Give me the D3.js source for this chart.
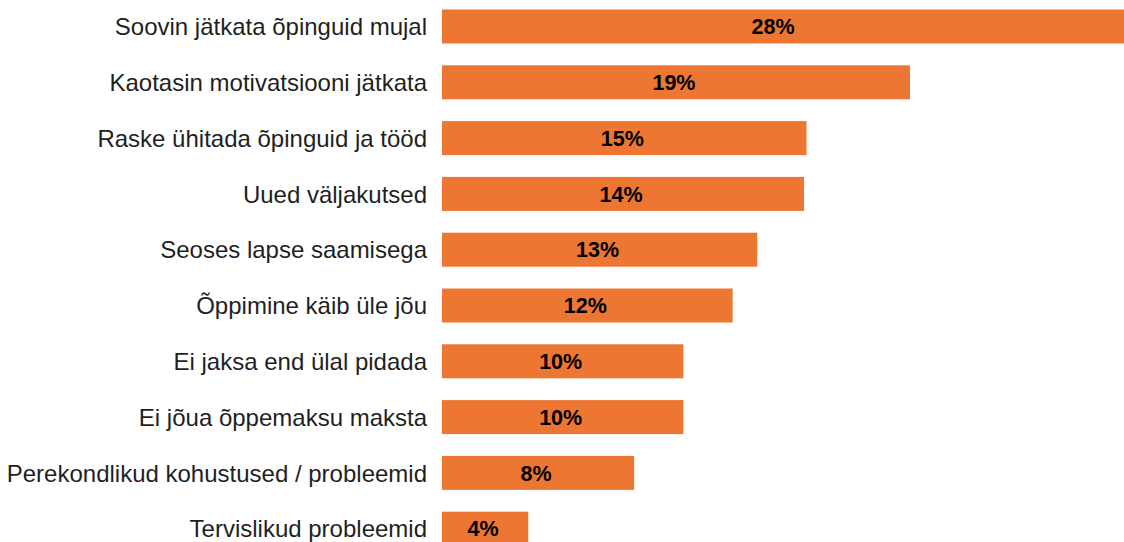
<!DOCTYPE html>
<html>
<head>
<meta charset="utf-8">
<script src="https://cdn.jsdelivr.net/npm/d3@7"></script>
<style>
html, body { margin: 0; padding: 0; background: #fff; overflow: hidden; }
svg { display: block; }
</style>
</head>
<body>
<svg id="chart" width="1124" height="542"></svg>
<script>
const categories = [
  "Soovin jätkata õpinguid mujal",
  "Kaotasin motivatsiooni jätkata",
  "Raske ühitada õpinguid ja tööd",
  "Uued väljakutsed",
  "Seoses lapse saamisega",
  "Õppimine käib üle jõu",
  "Ei jaksa end ülal pidada",
  "Ei jõua õppemaksu maksta",
  "Perekondlikud kohustused / probleemid",
  "Tervislikud probleemid"
];
const values = [28.0, 19.0, 14.8, 14.7, 12.8, 11.8, 9.8, 9.8, 7.8, 3.5];
const valueLabels = ["28%", "19%", "15%", "14%", "13%", "12%", "10%", "10%", "8%", "4%"];

const W = 1124, H = 542;
const x0 = 442;
const pxPerPct = 24.63;
const plotRight = 1108;

const svg = d3.select("#chart");

const x = d3.scaleLinear().domain([0, 1]).range([x0, x0 + pxPerPct]);
const pi = 1 - 34 / 55.8;
const y = d3.scaleBand()
  .domain(categories)
  .range([9.5, 9.5 + 55.8 * (categories.length - pi)])
  .paddingInner(pi)
  .paddingOuter(0);

const data = categories.map((c, i) => ({ c, v: values[i], l: valueLabels[i] }));

svg.append("g").selectAll("rect")
  .data(data).join("rect")
  .attr("x", x(0))
  .attr("y", d => y(d.c))
  .attr("width", d => x(d.v) - x(0))
  .attr("height", y.bandwidth())
  .attr("fill", "#EC7632");

svg.append("g").selectAll("text")
  .data(data).join("text")
  .attr("x", x0 - 15)
  .attr("y", d => y(d.c) + y.bandwidth() / 2)
  .attr("dy", "0.36em")
  .attr("text-anchor", "end")
  .attr("font-family", "'Liberation Sans', Arial, sans-serif")
  .attr("font-size", 24)
  .attr("fill", "#1f1f1f")
  .text(d => d.c);

svg.append("g").selectAll("text")
  .data(data).join("text")
  .attr("x", d => (x(0) + Math.min(x(d.v), plotRight)) / 2 - 2)
  .attr("y", d => y(d.c) + y.bandwidth() / 2)
  .attr("dy", "0.36em")
  .attr("text-anchor", "middle")
  .attr("font-family", "'Liberation Sans', Arial, sans-serif")
  .attr("font-size", 21.5)
  .attr("font-weight", "bold")
  .attr("fill", "#000")
  .text(d => d.l);
</script>
</body>
</html>
